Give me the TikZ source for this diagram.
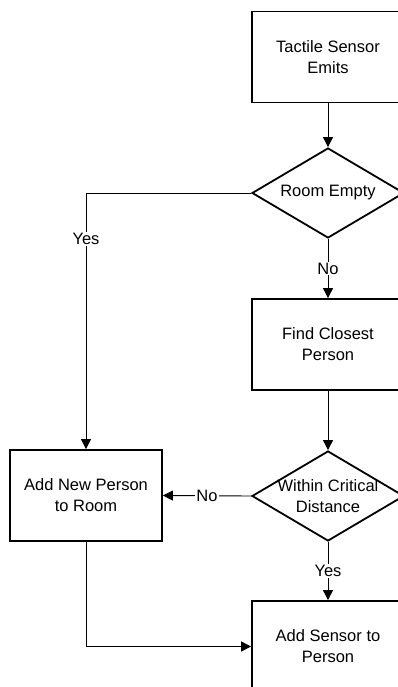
\documentclass[tikz,border=0pt]{standalone}
\usepackage{fontspec}
\setmainfont{Liberation Sans}
\usetikzlibrary{shapes.geometric,arrows.meta}

\begin{document}
\begin{tikzpicture}[x=1pt,y=1pt,yscale=-1,
  font=\fontsize{16.5}{21}\selectfont,
  procbox/.style={draw,line width=1.8pt,minimum width=152,minimum height=91,align=center},
  decision/.style={draw,diamond,line width=1.8pt,minimum width=152,minimum height=90,inner sep=0pt},
  flow/.style={line width=0.9pt,-{Triangle[length=10pt,width=10pt]}},
  answer/.style={fill=white,inner sep=1pt}]

\useasboundingbox (0,0) rectangle (398,687);
\clip (0,0) rectangle (398,687);

\node [procbox] (emit) at (328,57) {Tactile Sensor\\Emits};
\node [decision,label={center:Room Empty}] (empty) at (328,193) {};
\node [procbox] (find) at (328,344.5) {Find Closest\\Person};
\node [decision,label={[align=center]center:Within Critical\\Distance}] (crit) at (328,496) {};
\node [procbox] (addnew) at (86,495.5) {Add New Person\\to Room};
\node [procbox] (addsens) at (328,646.5) {Add Sensor to\\Person};

\draw [flow] (emit) -- (empty);
\draw [flow] (empty.west) -| (addnew.north) node [answer,pos=0.59] {Yes};
\draw [flow] (empty) -- (find) node [answer,midway] {No};
\draw [flow] (find) -- (crit);
\draw [flow] (crit.west) -- (addnew.east) node [answer,midway] {No};
\draw [flow] (crit) -- (addsens) node [answer,midway] {Yes};
\draw [flow] (addnew.south) |- (addsens.west);

\end{tikzpicture}
\end{document}
